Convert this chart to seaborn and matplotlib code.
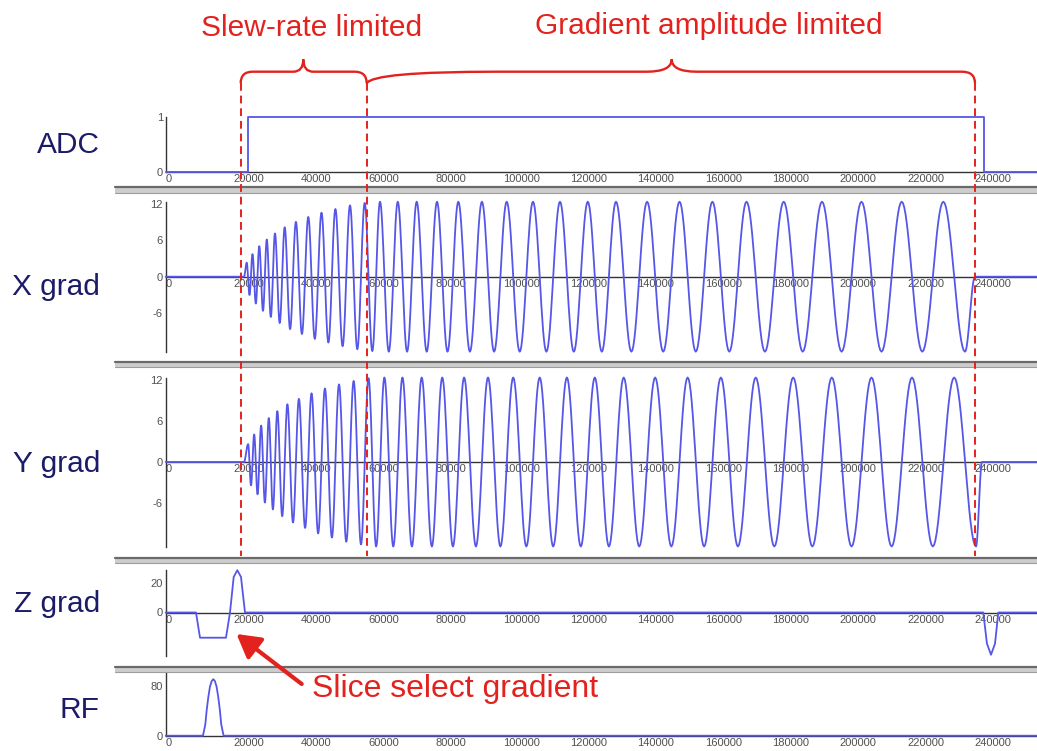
import numpy as np
import pandas as pd
import matplotlib
matplotlib.use("Agg")
import matplotlib.pyplot as plt
import seaborn as sns
from matplotlib.path import Path
from matplotlib.patches import PathPatch, Rectangle, FancyArrowPatch, ArrowStyle
from matplotlib.lines import Line2D
from matplotlib.transforms import blended_transform_factory
from matplotlib.ticker import MultipleLocator, FixedLocator

# ------------------------------------------------------------------ data
panel_names = ["ADC", "X grad", "Y grad", "Z grad", "RF"]
x_major_ticks = list(range(0, 240001, 20000))
x_tick_labels = [str(v) for v in x_major_ticks]
x_limit = 258550

adc_t = [0, 24330, 24330, 242900, 242900, 258550]
adc_v = [0, 0, 1, 1, 0, 0]

# spiral gradient: times / values of the successive extrema
gx_start, gx_end = 23240, 240150
gx_peak_t = [24040, 24870, 25760, 26740, 27770, 28870, 30000, 31190, 32430, 33830,
             35310, 36910, 38640, 40420, 42310, 44240, 46230, 48280, 50360, 52490,
             54690, 56860, 59050, 61310, 63590, 66200, 68870, 71630, 74480, 77450,
             80510, 83620, 86830, 90270, 93830, 97450, 101190, 105050, 108990, 112970,
             117000, 121100, 125250, 129410, 133620, 138190, 142850, 147630, 152470, 157300,
             162230, 167240, 172350, 177810, 183390, 189020, 194750, 200570, 206470, 212410,
             218400, 224510, 230750, 237180]
gx_peak_v = [2.3, -3.0, 3.7, -4.4, 5.0, -5.6, 6.1, -6.6, 7.1, -7.6,
             8.1, -8.6, 9.0, -9.4, 9.8, -10.2, 10.5, -10.8, 11.1, -11.4,
             11.7, -11.9, 12.1, -12.2, 12.3, -12.3, 12.3, -12.3, 12.3, -12.3,
             12.3, -12.3, 12.3, -12.3, 12.3, -12.3, 12.3, -12.3, 12.3, -12.3,
             12.3, -12.3, 12.3, -12.3, 12.3, -12.3, 12.3, -12.3, 12.3, -12.3,
             12.3, -12.3, 12.3, -12.3, 12.3, -12.3, 12.3, -12.3, 12.3, -12.3,
             12.3, -12.3, 12.3, -12.3]

gy_start, gy_end = 23240, 242230
gy_peak_t = [24455, 25315, 26250, 27255, 28320, 29435, 30595, 31810, 33130, 34570,
             36110, 37775, 39530, 41365, 43275, 45235, 47255, 49320, 51425, 53590,
             55775, 57955, 60180, 62450, 64895, 67535, 70250, 73055, 75965, 78980,
             82065, 85225, 88550, 92050, 95640, 99320, 103120, 107020, 110980, 114985,
             119050, 123175, 127330, 131515, 135905, 140520, 145240, 150050, 154885, 159765,
             164735, 169795, 175080, 180600, 186205, 191885, 197660, 203520, 209440, 215405,
             221455, 227630, 233965, 240450]
gy_peak_v = [2.6, -3.4, 4.0, -4.7, 5.3, -5.9, 6.4, -6.9, 7.4, -7.9,
             8.4, -8.8, 9.2, -9.6, 10.0, -10.4, 10.7, -11.0, 11.3, -11.6,
             11.8, -12.0, 12.2, -12.3, 12.3, -12.3, 12.3, -12.3, 12.3, -12.3,
             12.3, -12.3, 12.3, -12.3, 12.3, -12.3, 12.3, -12.3, 12.3, -12.3,
             12.3, -12.3, 12.3, -12.3, 12.3, -12.3, 12.3, -12.3, 12.3, -12.3,
             12.3, -12.3, 12.3, -12.3, 12.3, -12.3, 12.3, -12.3, 12.3, -12.3,
             12.3, -12.3, 12.3, -12.3]

gz_t = [0, 8990, 10180, 17890, 19080, 20180, 21250, 22340, 23530,
        242610, 243700, 244900, 246090, 247070, 258550]
gz_v = [0, 0, -17, -17, 0, 24, 28.5, 24, 0,
        0, -21, -28.5, -21, 0, 0]

rf_t = [0, 11060, 11750, 12160, 12640, 13140, 13650, 14120, 14600, 15100,
        15600, 16080, 16490, 17180, 258550]
rf_v = [0, 0, 18, 41, 62, 79, 88, 91, 88, 79, 62, 41, 18, 0, 0]

region_bounds = [22250, 59640, 240150]
brace_tips = [40830, 150150]
annot_titles = ["Slew-rate limited", "Gradient amplitude limited"]
slice_note = "Slice select gradient"

# ------------------------------------------------------------------ style
sns.set_style("white")
plt.rcParams["font.family"] = ["Liberation Sans", "DejaVu Sans"]

BLUE = "#5656e8"
RED = "#e3221e"
NAVY = "#1b1b68"
TICKC = "#505050"

W, H = 1037, 751
fig = plt.figure(figsize=(W / 100, H / 100), dpi=100)
fig.patch.set_facecolor("white")


def fx(p):
    return p / W


def fy(p):
    return 1 - p / H


def eased_curve(t0, kt, kv, t1):
    """Smooth (half-cosine) rendering through the read extrema."""
    ts, vs = [0.0, float(t0)], [0.0, 0.0]
    knots_t = [t0] + list(kt) + [t1]
    knots_v = [0.0] + list(kv) + [0.0]
    s = np.linspace(0, 1, 17)[1:]
    for i in range(len(knots_t) - 1):
        ta, tb = knots_t[i], knots_t[i + 1]
        va, vb = knots_v[i], knots_v[i + 1]
        ts.extend(ta + (tb - ta) * s)
        vs.extend(va + (vb - va) * (1 - np.cos(np.pi * s)) / 2)
    ts.append(float(x_limit))
    vs.append(0.0)
    return pd.DataFrame({"t": ts, "v": vs})


frames = {
    "ADC": pd.DataFrame({"t": adc_t, "v": adc_v}),
    "X grad": eased_curve(gx_start, gx_peak_t, gx_peak_v, gx_end),
    "Y grad": eased_curve(gy_start, gy_peak_t, gy_peak_v, gy_end),
    "Z grad": pd.DataFrame({"t": gz_t, "v": gz_v}),
    "RF": pd.DataFrame({"t": rf_t, "v": rf_v}),
}

panel_px = {"ADC": (116.7, 172.3), "X grad": (201.7, 351.7), "Y grad": (377.5, 546.5),
            "Z grad": (569.5, 655.5), "RF": (673.0, 735.7)}
ylims = {"ADC": (0, 1), "X grad": (-12.3, 12.3), "Y grad": (-12.3, 12.3),
         "Z grad": (-29, 29), "RF": (0, 101)}
yticks = {"ADC": [0, 1], "X grad": [-6, 0, 6, 12], "Y grad": [-6, 0, 6, 12],
          "Z grad": [0, 20], "RF": [0, 80]}
label_baseline = {"ADC": 153.3, "X grad": 295, "Y grad": 471.7, "Z grad": 611.7, "RF": 718.3}

left_px = 165.7
axes = {}
for name in panel_names:
    top, bot = panel_px[name]
    ax = fig.add_axes([fx(left_px), fy(bot), 1 - fx(left_px), (bot - top) / H])
    ax.set_facecolor("none")
    sns.lineplot(data=frames[name], x="t", y="v", ax=ax, color=BLUE, linewidth=1.3,
                 estimator=None, sort=False, legend=False, zorder=4)
    for ln in ax.lines:
        ln.set_clip_on(False)
    ax.set_xlim(0, x_limit)
    ax.set_ylim(*ylims[name])
    ax.set_xlabel("")
    ax.set_ylabel("")
    for side in ("top", "right"):
        ax.spines[side].set_visible(False)
    ax.spines["bottom"].set_position(("data", 0))
    for side in ("bottom", "left"):
        ax.spines[side].set_color("#333333")
        ax.spines[side].set_linewidth(1.0)
        ax.spines[side].set_zorder(3)
    ax.xaxis.set_major_locator(FixedLocator(x_major_ticks))
    ax.xaxis.set_minor_locator(MultipleLocator(4000))
    ax.set_xticklabels(x_tick_labels)
    ax.set_yticks(yticks[name])
    ax.set_yticklabels([str(v) for v in yticks[name]])
    ax.tick_params(axis="x", which="major", direction="in", length=4.5, width=0.9,
                   color="#333333", labelsize=8, labelcolor=TICKC, pad=1.5)
    ax.tick_params(axis="x", which="minor", direction="in", length=2, width=0.8,
                   color="#333333")
    ax.tick_params(axis="y", which="major", direction="in", length=3, width=0.9,
                   color="#333333", labelsize=8, labelcolor=TICKC, pad=2)
    for lab in ax.get_xticklabels():
        lab.set_horizontalalignment("left")
    ax.grid(False)
    axes[name] = ax
    fig.text(fx(100), fy(label_baseline[name]), name, ha="right", va="baseline",
             fontsize=21.5, color=NAVY)

# ------------------------------------------------------------------ separators
for top, bot in [(186.5, 193), (361, 368), (557, 563), (666, 672)]:
    fig.add_artist(Rectangle((fx(115), fy(bot)), 1 - fx(115), (bot - top) / H,
                             transform=fig.transFigure, facecolor="#cdcdcd",
                             edgecolor="none", zorder=1))
    fig.add_artist(Line2D([fx(115), 1], [fy(top + 0.8)] * 2, transform=fig.transFigure,
                          color="#6a6a6a", lw=1.6, zorder=1))
    fig.add_artist(Line2D([fx(115), 1], [fy(bot - 0.5)] * 2, transform=fig.transFigure,
                          color="#9c9c9c", lw=0.8, zorder=1))

# ------------------------------------------------------------------ annotations
btr = blended_transform_factory(axes["X grad"].transData, fig.transFigure)
for xb in region_bounds:
    fig.add_artist(Line2D([xb, xb], [fy(83.3), fy(556)], transform=btr, color=RED,
                          lw=1.4, linestyle=(0, (4, 2.5)), zorder=10))


def brace(xa, xm, xb, ra, rm, rb, ca=0.0):
    ye, yf, yt = fy(83.3), fy(71.7), fy(59.3)
    verts = [(xa, ye), (xa + ca * ra, yf), (xa + ra, yf),
             (xm - rm, yf),
             (xm, yf), (xm, yt),
             (xm, yf), (xm + rm, yf),
             (xb - rb, yf),
             (xb, yf), (xb, ye)]
    codes = [Path.MOVETO, Path.CURVE3, Path.CURVE3, Path.LINETO,
             Path.CURVE3, Path.CURVE3, Path.CURVE3, Path.CURVE3,
             Path.LINETO, Path.CURVE3, Path.CURVE3]
    fig.add_artist(PathPatch(Path(verts, codes), transform=btr, facecolor="none",
                             edgecolor=RED, lw=1.7, zorder=10))


px_u = 296.74  # data units per pixel, used only for brace curvature
brace(region_bounds[0], brace_tips[0], region_bounds[1], 12 * px_u, 10 * px_u, 12 * px_u)
brace(region_bounds[1], brace_tips[1], region_bounds[2], 130 * px_u, 25 * px_u, 13 * px_u, ca=0.05)

fig.text(fx(311.5), fy(35.5), annot_titles[0], ha="center", va="baseline",
         fontsize=21.5, color=RED)
fig.text(fx(708.5), fy(33.5), annot_titles[1], ha="center", va="baseline",
         fontsize=21.5, color=RED)

fig.add_artist(FancyArrowPatch(posA=(fx(301.7), fy(684)), posB=(fx(236.5), fy(634)),
                               transform=fig.transFigure,
                               arrowstyle=ArrowStyle("-|>", head_length=0.7, head_width=0.4),
                               mutation_scale=20, lw=3, color=RED,
                               shrinkA=0, shrinkB=0, zorder=10))
fig.text(fx(311.7), fy(697), slice_note, ha="left", va="baseline",
         fontsize=23, color=RED)

fig.savefig("out.png", dpi=100, facecolor="white")
